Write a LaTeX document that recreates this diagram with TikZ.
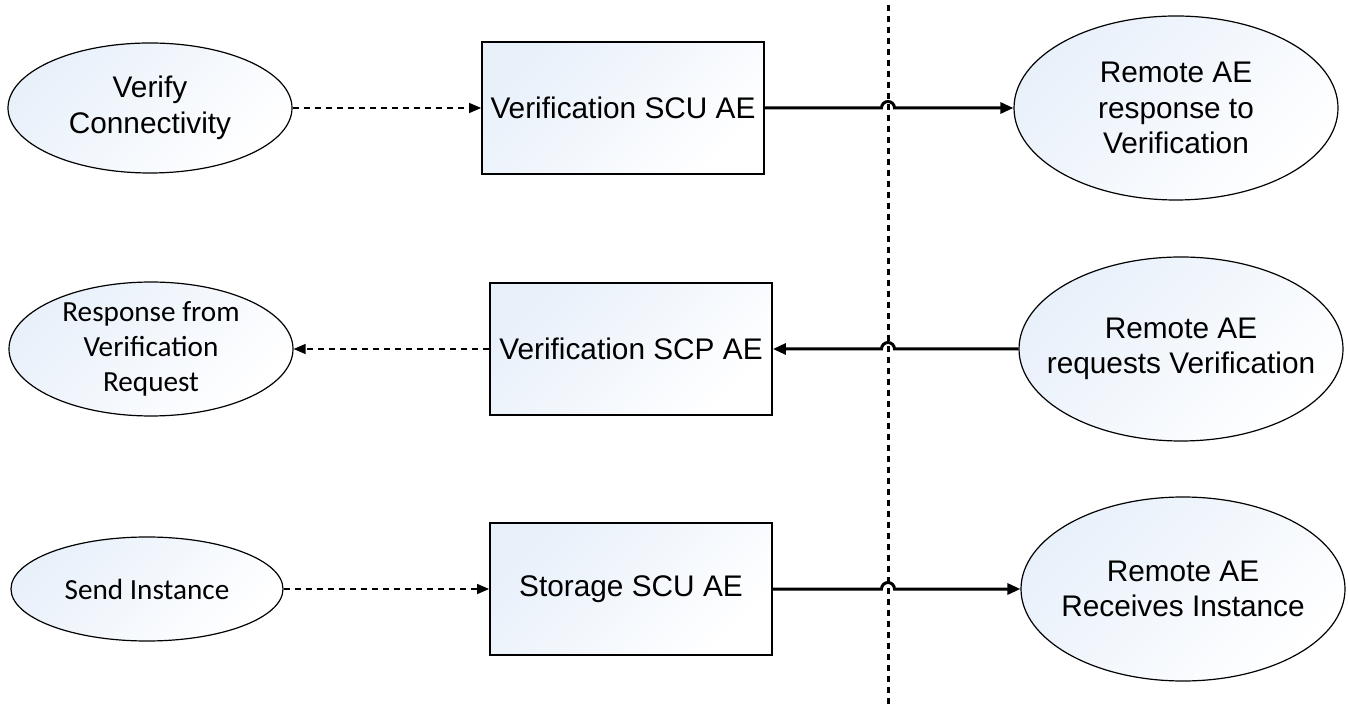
\documentclass[tikz,border=0pt]{standalone}
\usepackage{fontspec}
\setmainfont{Liberation Sans}
\newfontfamily\calibri{Carlito}
\usepackage{xcolor}
\usetikzlibrary{positioning, shapes, arrows.meta, shapes.geometric}
\definecolor{aefill}{RGB}{232,240,250}

\begin{document}
\begin{tikzpicture}[
    x=0.5pt, y=0.5pt,
    aebox/.style={rectangle, draw, line width=0.9pt, minimum width=141pt, minimum height=66pt, top color=aefill, bottom color=white, shading angle=45, font=\fontsize{14.9}{17.8}\selectfont},
    local/.style={ellipse, draw, line width=0.6pt, minimum width=142pt, minimum height=65pt, inner sep=0pt, align=center, top color=aefill, bottom color=white, shading angle=45, font=\fontsize{14.9}{17.8}\selectfont},
    localc/.style={local, font=\calibri\fontsize{14.6}{17.5}\selectfont},
    remote/.style={local, minimum width=162pt, minimum height=92pt, inner xsep=-20pt},
    request/.style={dash pattern=on 3pt off 2.5pt, line width=0.7pt, -{Triangle[length=6pt,width=5pt]}},
    flow/.style={line width=1.5pt, -{Triangle[length=6.5pt,width=5.5pt]}},
    divider/.style={line width=1.5pt, dash pattern=on 3pt off 2.5pt}
]
\useasboundingbox (0,0) rectangle (1348,707);

% Divider between local and remote side
\coordinate (divtop) at (888,702);
\coordinate (divbot) at (888,0);
\draw[divider] (divtop) -- (divbot);

% Verification SCU
\node[local] (verify) at (150,599) {Verify\\Connectivity};
\node[aebox] (scu) at (623,599) {Verification SCU AE};
\node[remote] (remresp) at (1176,599) {Remote AE\\response to\\Verification};

% Verification SCP
\node[localc] (response) at (151,358) {Response from\\Verification\\Request};
\node[aebox] (scp) at (631,358) {Verification SCP AE};
\node[remote] (remreq) at (1181,358) {Remote AE\\requests Verification};

% Storage SCU
\node[localc, minimum width=136pt, minimum height=52pt] (send) at (147,118) {Send Instance};
\node[aebox] (storage) at (631,118) {Storage SCU AE};
\node[remote] (remrecv) at (1183,118) {Remote AE\\Receives Instance};

% Line hops over the divider
\coordinate (hop1) at (888,599);
\coordinate (hop2) at (888,358);
\coordinate (hop3) at (888,118);

% Edges
\draw[request] (verify) -- (scu);
\draw[request] (scp) -- (response);
\draw[request] (send) -- (storage);
\draw[flow] (scu) -- ([xshift=-3.25pt]hop1) arc[start angle=180, end angle=0, radius=3.25pt] -- (remresp);
\draw[flow] (remreq) -- ([xshift=3.25pt]hop2) arc[start angle=0, end angle=180, radius=3.25pt] -- (scp);
\draw[flow] (storage) -- ([xshift=-3.25pt]hop3) arc[start angle=180, end angle=0, radius=3.25pt] -- (remrecv);

\end{tikzpicture}
\end{document}
